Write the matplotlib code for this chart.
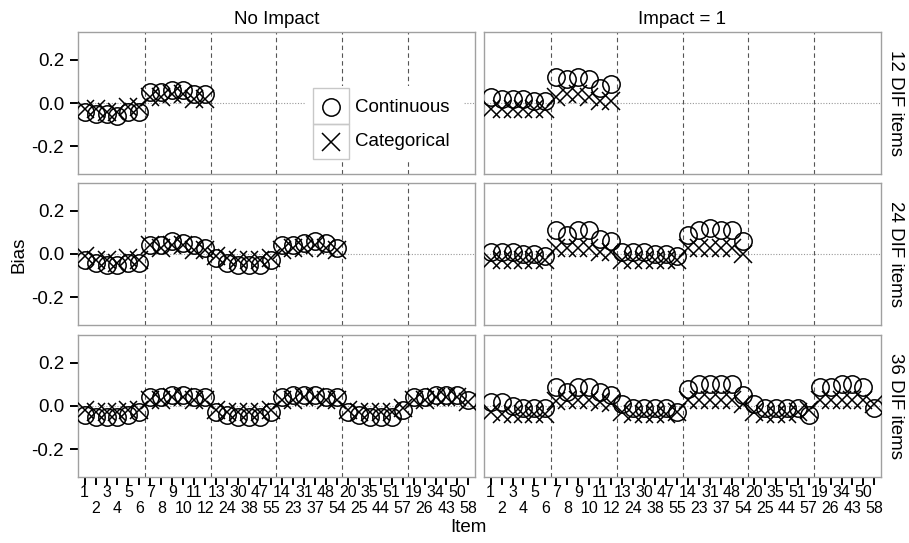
import matplotlib
matplotlib.use("Agg")
import matplotlib.pyplot as plt
from matplotlib.patches import Rectangle
from matplotlib.lines import Line2D
import numpy as np

plt.rcParams['font.family'] = ['Liberation Sans', 'DejaVu Sans']

item_labels = ["1", "2", "3", "4", "5", "6", "7", "8", "9", "10", "11", "12",
               "13", "24", "30", "38", "47", "55", "14", "23", "31", "37", "48", "54",
               "20", "25", "35", "44", "51", "57", "19", "26", "34", "43", "50", "58"]
col_labels = ["No Impact", "Impact = 1"]
row_labels = ["12 DIF items", "24 DIF items", "36 DIF items"]
group_bounds = [6.5, 12.5, 18.5, 24.5, 30.5]

# No Impact
noimp_12_cont = [-0.04, -0.05, -0.05, -0.06, -0.04, -0.04, 0.05, 0.05, 0.06, 0.06, 0.04, 0.04]
noimp_12_cat = [-0.03, -0.03, -0.04, -0.04, -0.02, -0.02, 0.03, 0.03, 0.04, 0.04, 0.02, 0.02]
noimp_24_cont = [-0.03, -0.04, -0.05, -0.05, -0.04, -0.04, 0.04, 0.04, 0.06, 0.05, 0.04, 0.03,
                 -0.02, -0.04, -0.05, -0.05, -0.05, -0.03, 0.04, 0.04, 0.05, 0.06, 0.05, 0.03]
noimp_24_cat = [-0.01, -0.03, -0.03, -0.04, -0.02, -0.03, 0.04, 0.03, 0.04, 0.04, 0.02, 0.02,
                -0.01, -0.02, -0.03, -0.03, -0.03, -0.02, 0.02, 0.03, 0.03, 0.04, 0.03, 0.02]
noimp_36_cont = [-0.04, -0.05, -0.05, -0.05, -0.04, -0.03, 0.04, 0.04, 0.05, 0.05, 0.04, 0.04,
                 -0.03, -0.04, -0.05, -0.05, -0.05, -0.03, 0.04, 0.05, 0.05, 0.05, 0.04, 0.04,
                 -0.03, -0.04, -0.05, -0.05, -0.05, -0.02, 0.04, 0.04, 0.05, 0.05, 0.05, 0.03]
noimp_36_cat = [-0.02, -0.03, -0.03, -0.03, -0.02, -0.02, 0.03, 0.03, 0.04, 0.04, 0.03, 0.03,
                -0.02, -0.03, -0.03, -0.03, -0.03, -0.02, 0.03, 0.03, 0.04, 0.04, 0.03, 0.03,
                -0.02, -0.03, -0.03, -0.03, -0.03, -0.01, 0.03, 0.03, 0.04, 0.04, 0.04, 0.02]
# Impact = 1
imp_12_cont = [0.03, 0.02, 0.02, 0.02, 0.01, 0.01, 0.12, 0.11, 0.12, 0.11, 0.07, 0.09]
imp_12_cat = [-0.03, -0.03, -0.03, -0.03, -0.03, -0.03, 0.03, 0.04, 0.04, 0.03, 0.01, 0.01]
imp_24_cont = [0.01, 0.01, 0.01, 0.00, 0.00, -0.01, 0.11, 0.09, 0.11, 0.11, 0.07, 0.06,
               0.01, 0.01, 0.01, 0.00, 0.00, -0.01, 0.09, 0.11, 0.12, 0.11, 0.11, 0.06]
imp_24_cat = [-0.03, -0.03, -0.03, -0.03, -0.03, -0.03, 0.03, 0.03, 0.03, 0.03, 0.01, 0.01,
              -0.03, -0.03, -0.03, -0.03, -0.03, -0.03, 0.03, 0.03, 0.03, 0.03, 0.03, 0.00]
imp_36_cont = [0.02, 0.02, 0.00, -0.01, -0.01, -0.01, 0.09, 0.065, 0.09, 0.09, 0.065, 0.05,
               0.01, -0.01, -0.01, -0.01, -0.01, -0.03, 0.08, 0.10, 0.10, 0.10, 0.10, 0.05,
               0.01, -0.01, -0.01, -0.01, -0.01, -0.04, 0.09, 0.09, 0.10, 0.10, 0.09, -0.01]
imp_36_cat = [-0.03, -0.035, -0.035, -0.035, -0.035, -0.035, 0.025, 0.03, 0.03, 0.03, 0.02, 0.015,
              -0.03, -0.035, -0.035, -0.035, -0.035, -0.03, 0.03, 0.03, 0.03, 0.03, 0.03, 0.01,
              -0.03, -0.035, -0.035, -0.035, -0.03, -0.02, 0.03, 0.03, 0.03, 0.03, 0.03, 0.01]

data = [
    [(noimp_12_cont, noimp_12_cat), (imp_12_cont, imp_12_cat)],
    [(noimp_24_cont, noimp_24_cat), (imp_24_cont, imp_24_cat)],
    [(noimp_36_cont, noimp_36_cat), (imp_36_cont, imp_36_cat)],
]

W, H = 909, 543
fig = plt.figure(figsize=(W / 100, H / 100), dpi=100)

col_x = [78, 484]
col_w = 397
row_y = [32, 183, 335]
row_h = 142

border = '#a0a0a0'
MS = 12.5
axes = []
positions = np.arange(1, 37)
for r in range(3):
    for c in range(2):
        ax = fig.add_axes([col_x[c] / W, 1 - (row_y[r] + row_h) / H, col_w / W, row_h / H])
        ax.set_xlim(0.4, 36.6)
        ax.set_ylim(-0.33, 0.33)
        for s in ax.spines.values():
            s.set_color(border)
            s.set_linewidth(1.0)
        ax.axhline(0, color='#999999', linestyle=(0, (1, 1.5)), linewidth=0.8, zorder=1)
        for b in group_bounds:
            ax.axvline(b, color='#555555', linestyle=(0, (4, 3)), linewidth=0.8, zorder=1)
        cont, cat = data[r][c]
        xs_c = np.arange(1, len(cont) + 1)
        xs_k = np.arange(1, len(cat) + 1)
        ax.plot(xs_c, cont, linestyle='none', marker='o', markersize=MS,
                markerfacecolor='none', markeredgecolor='black', markeredgewidth=1.1, zorder=3)
        ax.plot(xs_k, cat, linestyle='none', marker='x', markersize=MS,
                markeredgecolor='black', markeredgewidth=1.1, zorder=3)
        ax.set_yticks([-0.2, 0.0, 0.2])
        ax.tick_params(axis='y', direction='out', length=6, width=1.4, color='black',
                       labelsize=13.5, labelcolor='black', pad=4)
        if c == 0:
            ax.set_yticklabels(["-0.2", "0.0", "0.2"])
        else:
            ax.tick_params(axis='y', length=0, labelleft=False)
        ax.set_xticks(positions[0::2])
        ax.set_xticks(positions[1::2], minor=True)
        if r == 2:
            ax.set_xticklabels(item_labels[0::2])
            ax.set_xticklabels(item_labels[1::2], minor=True)
            ax.tick_params(axis='x', which='major', direction='out', length=6, width=1.4,
                           color='black', labelsize=11.5, pad=0)
            ax.tick_params(axis='x', which='minor', direction='out', length=6, width=1.4,
                           color='black', labelsize=11.5, pad=11)
        else:
            ax.tick_params(axis='x', which='both', length=0, labelbottom=False)
        if r == 0:
            ax.set_title(col_labels[c], fontsize=13.5, pad=6)
        if c == 1:
            ax.text(1.014, 0.5, row_labels[r], transform=ax.transAxes, rotation=270,
                    ha='left', va='center', fontsize=13.5)
        axes.append(ax)

fig.text(19 / W, 1 - 255 / H, "Bias", rotation=90, ha='center', va='center', fontsize=13.5)
fig.text(468 / W, 1 - 527 / H, "Item", ha='center', va='center', fontsize=13.5)

# Legend (manual) in top-left panel
fig.patches.append(Rectangle((305 / W, 1 - 161 / H), 158 / W, 75 / H,
                             transform=fig.transFigure, facecolor='white',
                             edgecolor='none', zorder=5))
for (y0, y1) in [(88, 124), (124, 159)]:
    fig.patches.append(Rectangle((313 / W, 1 - y1 / H), 36 / W, (y1 - y0) / H,
                                 transform=fig.transFigure, fill=False,
                                 edgecolor='#c8c8c8', linewidth=1.0, zorder=6))
leg_markers = ['o', 'x']
leg_labels = ["Continuous", "Categorical"]
leg_y = [107, 142]
for m, lab, yy in zip(leg_markers, leg_labels, leg_y):
    fig.lines.append(Line2D([331 / W], [1 - yy / H], transform=fig.transFigure,
                            linestyle='none', marker=m, markersize=12.5,
                            markerfacecolor='none', markeredgecolor='black',
                            markeredgewidth=1.1, zorder=7))
    fig.text(355 / W, 1 - yy / H, lab, ha='left', va='center', fontsize=13.5, zorder=7)

fig.savefig("out.png", dpi=100)
